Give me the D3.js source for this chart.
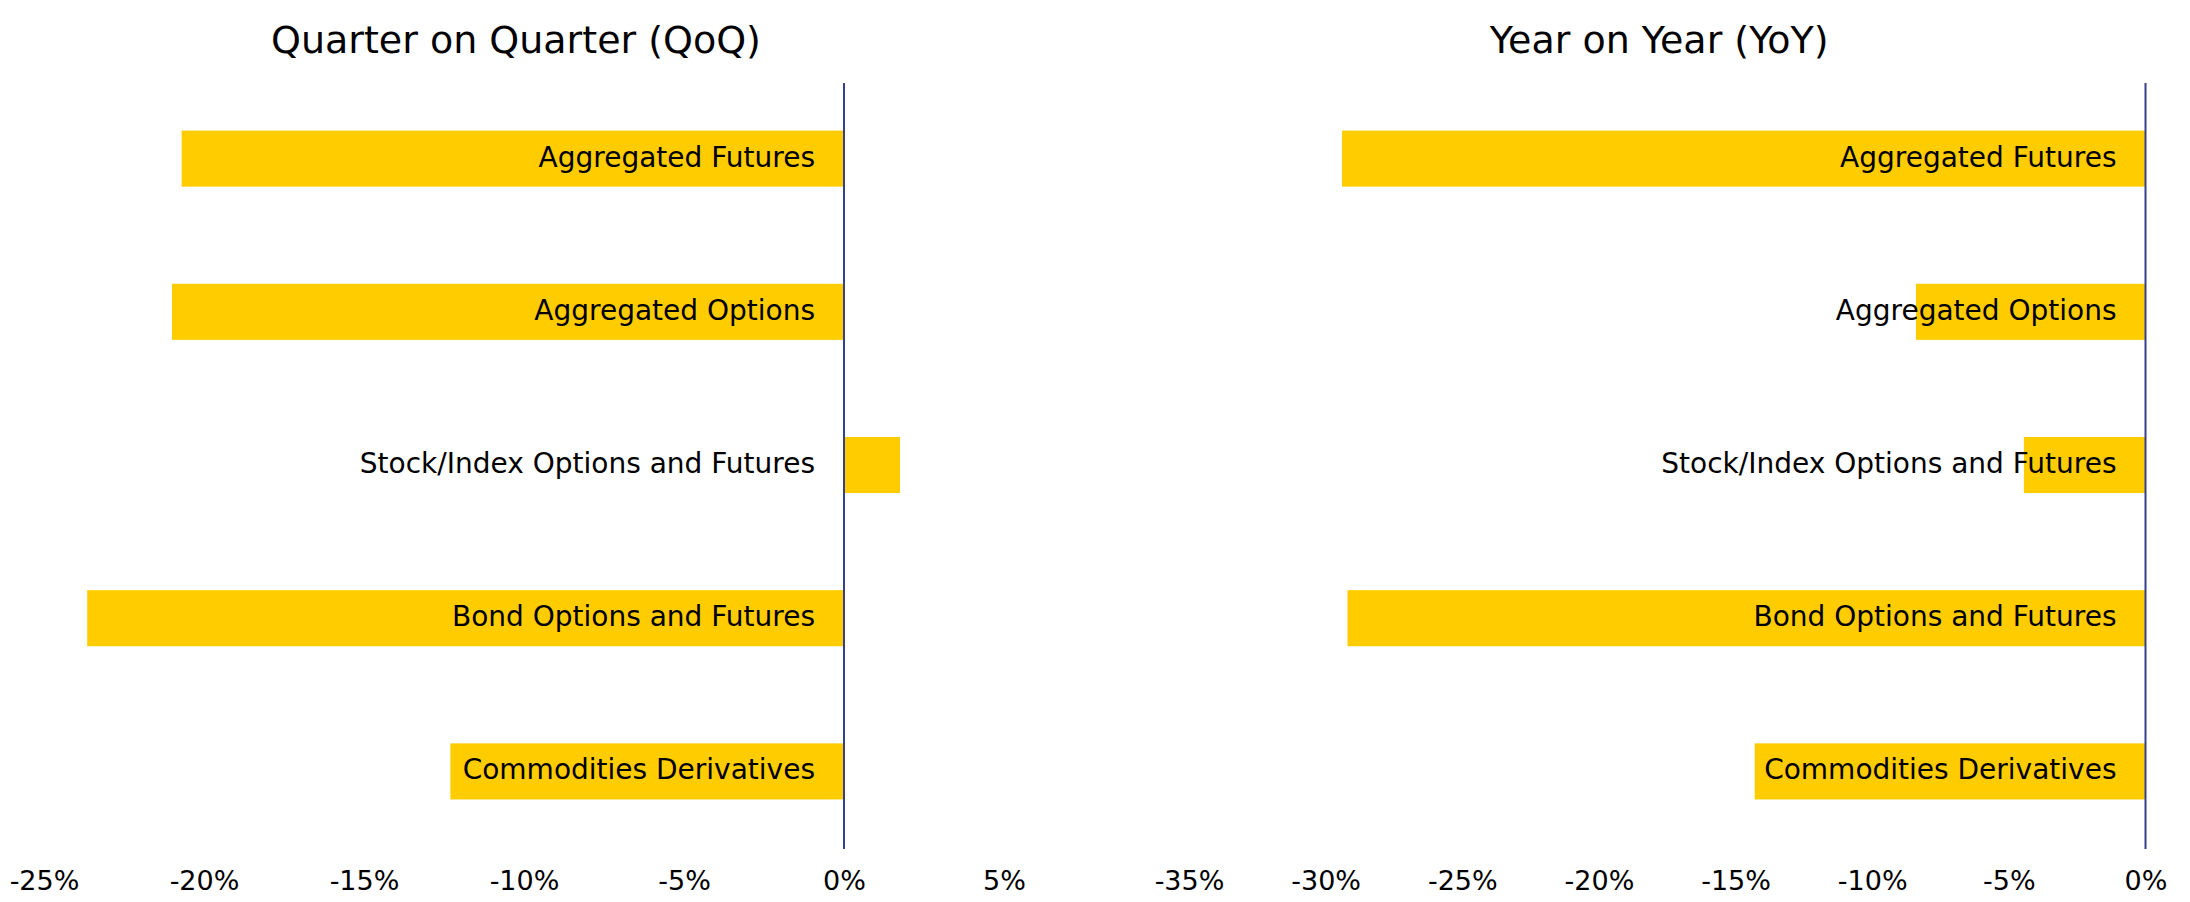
<!DOCTYPE html>
<html>
<head>
<meta charset="utf-8">
<script src="https://cdn.jsdelivr.net/npm/d3@7"></script>
<style>
  body { margin: 0; background: #fff; }
  svg text { font-family: Tahoma, "DejaVu Sans", sans-serif; fill: #000; }
</style>
</head>
<body>
<svg id="chart"></svg>
<script>
const categories = [
    "Aggregated Futures",
    "Aggregated Options",
    "Stock/Index Options and Futures",
    "Bond Options and Futures",
    "Commodities Derivatives"
];
const qoqValues = [-20.7, -21.0, 1.75, -23.65, -12.3];
const yoyValues = [-29.4, -8.4, -4.45, -29.2, -14.3];
const qoqTicks = [-25, -20, -15, -10, -5, 0, 5];
const yoyTicks = [-35, -30, -25, -20, -15, -10, -5, 0];

const width = 2190, height = 902;
const svg = d3.select("#chart").attr("width", width).attr("height", height);

const y = d3.scaleBand()
    .domain(categories)
    .range([82, 848])
    .paddingInner(0.634)
    .paddingOuter(0.317);

const panels = [
    {title: "Quarter on Quarter (QoQ)", values: qoqValues, ticks: qoqTicks, domain: [-25, 5], range: [44, 1004]},
    {title: "Year on Year (YoY)", values: yoyValues, ticks: yoyTicks, domain: [-35, 0], range: [1189, 2145.5]}
];

panels.forEach(p => {
    const x = d3.scaleLinear().domain(p.domain).range(p.range);
    const g = svg.append("g");
    const data = categories.map((c, i) => ({cat: c, value: p.values[i]}));

    // title
    g.append("text")
        .attr("x", (p.range[0] + p.range[1]) / 2 - 8)
        .attr("y", 42)
        .attr("text-anchor", "middle")
        .attr("dominant-baseline", "middle")
        .style("font-size", "38px")
        .text(p.title);

    // bars
    g.selectAll(".bar")
        .data(data)
        .enter().append("rect")
        .attr("class", "bar")
        .attr("x", d => x(Math.min(0, d.value)))
        .attr("y", d => y(d.cat))
        .attr("width", d => Math.abs(x(d.value) - x(0)))
        .attr("height", y.bandwidth())
        .attr("fill", "#FFCC00");

    // zero line
    g.append("line")
        .attr("x1", x(0)).attr("x2", x(0))
        .attr("y1", 83).attr("y2", 849)
        .attr("stroke", "#34408c")
        .attr("stroke-width", 2);

    // category labels
    g.selectAll(".cat")
        .data(data)
        .enter().append("text")
        .attr("class", "cat")
        .attr("x", x(0) - 29)
        .attr("y", d => y(d.cat) + y.bandwidth() / 2)
        .attr("text-anchor", "end")
        .attr("dominant-baseline", "middle")
        .style("font-size", "28px")
        .text(d => d.cat);

    // x axis
    const axis = g.append("g")
        .attr("transform", "translate(0,881)")
        .call(d3.axisBottom(x).tickValues(p.ticks).tickSize(0).tickPadding(0).tickFormat(d => d + "%"));
    axis.select(".domain").remove();
    axis.selectAll("text")
        .attr("dy", "0.35em")
        .attr("y", 0)
        .style("font-size", "27px")
        .style("font-family", 'Tahoma, "DejaVu Sans", sans-serif');
});
</script>
</body>
</html>
